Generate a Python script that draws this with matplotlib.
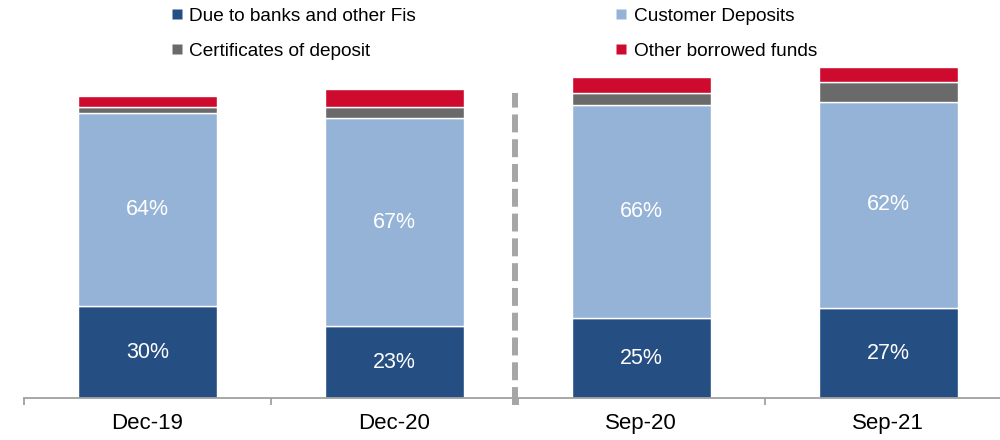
import matplotlib
matplotlib.use("Agg")
import matplotlib.pyplot as plt
from matplotlib.lines import Line2D
import numpy as np

plt.rcParams['font.family'] = ['Liberation Sans', 'DejaVu Sans']

# funding mix by period (same units across bars)
periods = ['Dec-19', 'Dec-20', 'Sep-20', 'Sep-21']
due_to_banks = [92, 72, 80, 90]
customer_deposits = [193, 208, 213, 206]
certificates = [6, 10.5, 11.7, 20]
other_borrowed = [11, 18.5, 16, 15]

series_names = ['Due to banks and other Fis', 'Customer Deposits',
                'Certificates of deposit', 'Other borrowed funds']
colors = ['#254e83', '#95b3d6', '#6a6a6a', '#ce0a2e']

fig = plt.figure(figsize=(10, 4.4), dpi=100)
ax = fig.add_axes([0.024, 42 / 440, 0.9875, 358 / 440])

x = np.arange(len(periods))
stack = [due_to_banks, customer_deposits, certificates, other_borrowed]
totals = np.sum(stack, axis=0)
bottom = np.zeros(len(periods))
for vals, col, name in zip(stack, colors, series_names):
    ax.bar(x, vals, width=0.563, bottom=bottom, color=col,
           edgecolor='white', linewidth=1, label=name, zorder=2)
    bottom += np.array(vals)

# share labels on the two big segments
for i in range(len(periods)):
    for vals, base in ((due_to_banks, 0), (customer_deposits, due_to_banks[i])):
        share = vals[i] / totals[i] * 100
        ax.text(x[i], base + vals[i] / 2, f'{share:.0f}%', ha='center',
                va='center', color='white', fontsize=15.5, zorder=3)

# separator between year-end and September periods
ax.plot([1.488, 1.488], [-7, 305], color='#a6a6a6', lw=4.3,
        dashes=(3, 1.15), clip_on=False, zorder=4)

ax.set_xlim(-0.5, 3.5)
ax.set_ylim(0, 358)
for side in ('left', 'right', 'top'):
    ax.spines[side].set_visible(False)
ax.spines['bottom'].set_color('#a0a0a0')
ax.spines['bottom'].set_linewidth(1.3)
ax.set_yticks([])
ax.set_xticks(x)
ax.set_xticklabels(periods, fontsize=16)
ax.tick_params(axis='x', which='major', length=0, pad=11)
ax.set_xticks(np.arange(-0.5, 3.6, 1), minor=True)
ax.tick_params(axis='x', which='minor', length=5, width=1.3,
               color='#a0a0a0', direction='out')

# legend laid out row by row: matplotlib fills columns first, so reorder
handles = [Line2D([], [], marker='s', linestyle='none', markersize=6.5,
                  markerfacecolor=c, markeredgecolor='none') for c in colors]
order = [0, 2, 1, 3]
fig.legend([handles[k] for k in order], [series_names[k] for k in order],
           loc='upper left', ncol=2, bbox_to_anchor=(0.167, 0.99),
           frameon=False, fontsize=13.7, handlelength=0.7,
           handletextpad=0.3, columnspacing=10.45, labelspacing=0.95,
           borderpad=0.15, borderaxespad=0)

fig.savefig('out.png', dpi=100)
